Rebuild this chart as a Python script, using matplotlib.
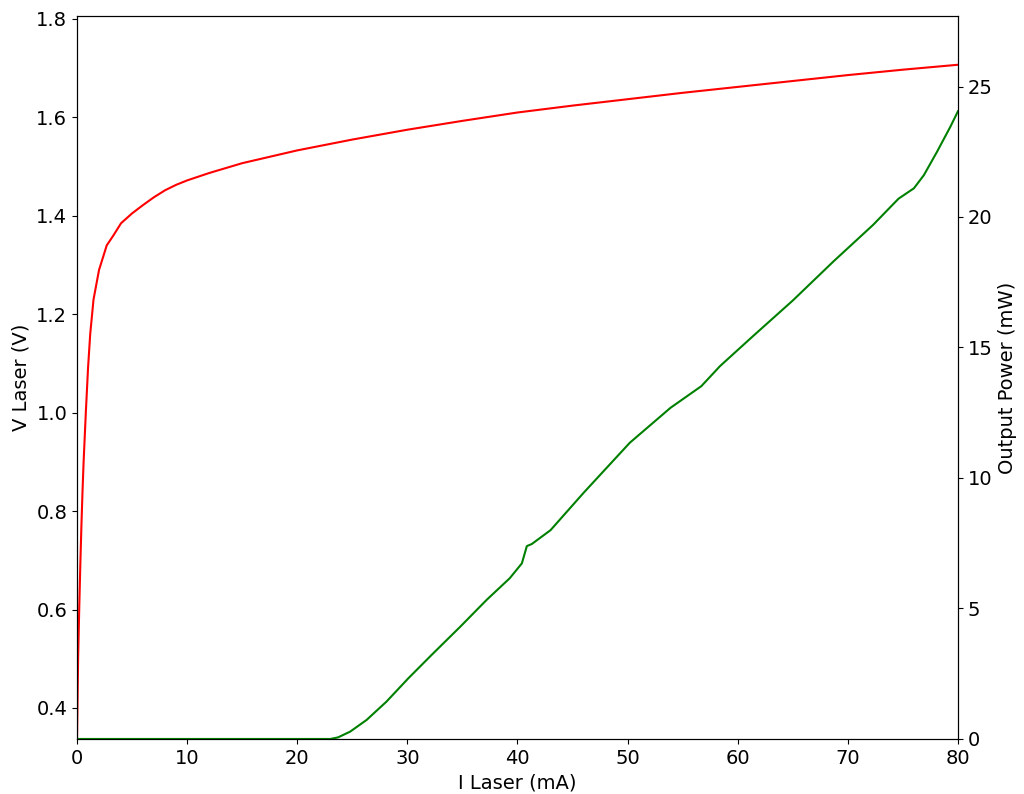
import matplotlib
matplotlib.use("Agg")
import matplotlib.pyplot as plt

# -----------------------
# Data
# -----------------------
i_v = [0, 0.1, 0.2, 0.3, 0.4, 0.5, 0.6, 0.8, 1.0, 1.2, 1.5, 2.0, 2.7, 3.3,
       4.0, 5.0, 6.0, 7.0, 8.0, 9.0, 10, 12, 15, 20, 25, 30, 35, 40, 45,
       50, 55, 60, 65, 70, 75, 80]
v_laser = [0.337, 0.50, 0.60, 0.69, 0.77, 0.84, 0.90, 1.00, 1.09, 1.16,
           1.23, 1.29, 1.34, 1.36, 1.385, 1.405, 1.422, 1.438, 1.452,
           1.463, 1.472, 1.487, 1.507, 1.533, 1.555, 1.575, 1.593, 1.610,
           1.624, 1.637, 1.650, 1.662, 1.674, 1.686, 1.697, 1.707]

i_p = [0, 10, 20, 23.0, 23.7, 24.8, 26.3, 28.1, 30.1, 32.2, 34.8, 37.2,
       39.3, 40.4, 40.85, 41.3, 43.0, 46.0, 50.2, 53.9, 56.7, 58.4, 61.4,
       65.0, 68.7, 72.3, 74.6, 76.0, 76.9, 78.1, 79.3, 80]
p_out = [0, 0, 0, 0, 0.06, 0.28, 0.73, 1.43, 2.33, 3.22, 4.3, 5.33, 6.16,
         6.73, 7.39, 7.47, 8.0, 9.43, 11.35, 12.69, 13.52, 14.29, 15.44,
         16.8, 18.3, 19.7, 20.7, 21.1, 21.6, 22.5, 23.45, 24.05]

x_ticks = [0, 10, 20, 30, 40, 50, 60, 70, 80]
v_ticks = [0.4, 0.6, 0.8, 1.0, 1.2, 1.4, 1.6, 1.8]
p_ticks = [0, 5, 10, 15, 20, 25]

# -----------------------
# Plot
# -----------------------
plt.rcParams["font.size"] = 14

fig = plt.figure(figsize=(10.24, 7.94), dpi=100)
ax = fig.add_axes([0.0752, 0.0693, 0.8603, 0.9105])
ax2 = ax.twinx()

ax.plot(i_v, v_laser, color="red", linewidth=1.5)
ax2.plot(i_p, p_out, color="green", linewidth=1.5)

ax.set_xlim(0, 80)
ax.set_ylim(0.337, 1.806)
ax2.set_ylim(0, 27.7)

ax.set_xticks(x_ticks)
ax.set_yticks(v_ticks)
ax2.set_yticks(p_ticks)

ax.set_xlabel("I Laser (mA)")
ax.set_ylabel("V Laser (V)")
ax2.set_ylabel("Output Power (mW)")

fig.savefig("out.png", dpi=100)
plt.close(fig)
